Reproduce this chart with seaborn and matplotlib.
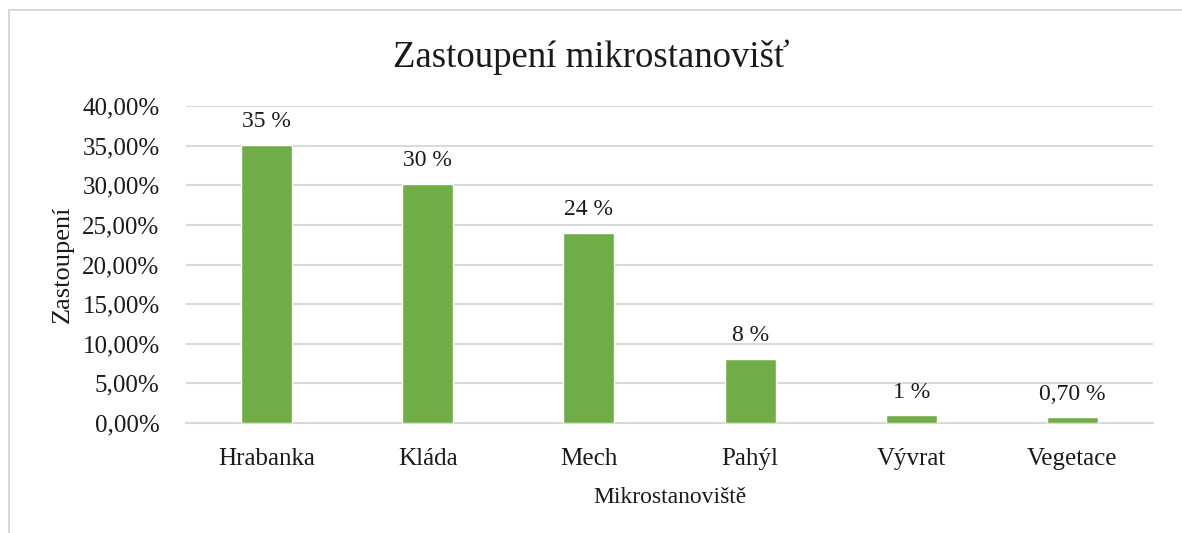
import matplotlib
matplotlib.use("Agg")
import matplotlib.pyplot as plt
import seaborn as sb
import pandas as pd
from matplotlib.ticker import FuncFormatter
from matplotlib.lines import Line2D

# data
categories = ["Hrabanka", "Kláda", "Mech", "Pahýl", "Vývrat", "Vegetace"]
shares = [35.1, 30.2, 24.0, 8.1, 1.0, 0.7]  # percent
bar_labels = ["35 %", "30 %", "24 %", "8 %", "1 %", "0,70 %"]
y_ticks = [0, 5, 10, 15, 20, 25, 30, 35, 40]

sb.set_style("white")
plt.rcParams["font.family"] = ["Liberation Serif", "DejaVu Serif"]

df = pd.DataFrame({"kategorie": categories, "zastoupeni": shares})

fig = plt.figure(figsize=(11.82, 5.33), dpi=100)
ax = fig.add_axes([186 / 1182, 1 - 423 / 533, (1153 - 186) / 1182, (423 - 106) / 533])

sb.barplot(data=df, x="kategorie", y="zastoupeni", color="#70AD47",
           saturation=1, width=0.317, ax=ax, zorder=3)
ax.bar_label(ax.containers[0], labels=bar_labels, padding=9, fontsize=17, color="#1a1a1a")

ax.set_ylim(0, 40)
ax.set_yticks(y_ticks)
ax.yaxis.set_major_formatter(FuncFormatter(lambda v, pos: f"{v:.2f}%".replace(".", ",")))
ax.grid(axis="y", color="#D9D9D9", linewidth=1.5, zorder=0)
ax.set_axisbelow(True)
for side in ["top", "right", "left"]:
    ax.spines[side].set_visible(False)
ax.spines["bottom"].set_color("#D9D9D9")
ax.spines["bottom"].set_linewidth(1.5)
ax.tick_params(axis="both", length=0, labelsize=18, colors="#1a1a1a")
ax.tick_params(axis="x", pad=18)
ax.tick_params(axis="y", pad=19)

ax.set_xlabel("Mikrostanoviště", fontsize=17, labelpad=12, color="#1a1a1a")
ax.set_ylabel("Zastoupení", fontsize=19, labelpad=6, color="#1a1a1a")
fig.text(0.5, 1 - 57 / 533, "Zastoupení mikrostanovišť", ha="center", va="center",
         fontsize=26.5, color="#1a1a1a")

# outer chart frame (only left and top edges are visible in the reference)
fig.add_artist(Line2D([9 / 1182, 9 / 1182], [0, 1 - 10 / 533], color="#D9D9D9", linewidth=1.5))
fig.add_artist(Line2D([9 / 1182, 1], [1 - 10 / 533, 1 - 10 / 533], color="#D9D9D9", linewidth=1.5))

fig.savefig("out.png", dpi=100)
plt.close()
